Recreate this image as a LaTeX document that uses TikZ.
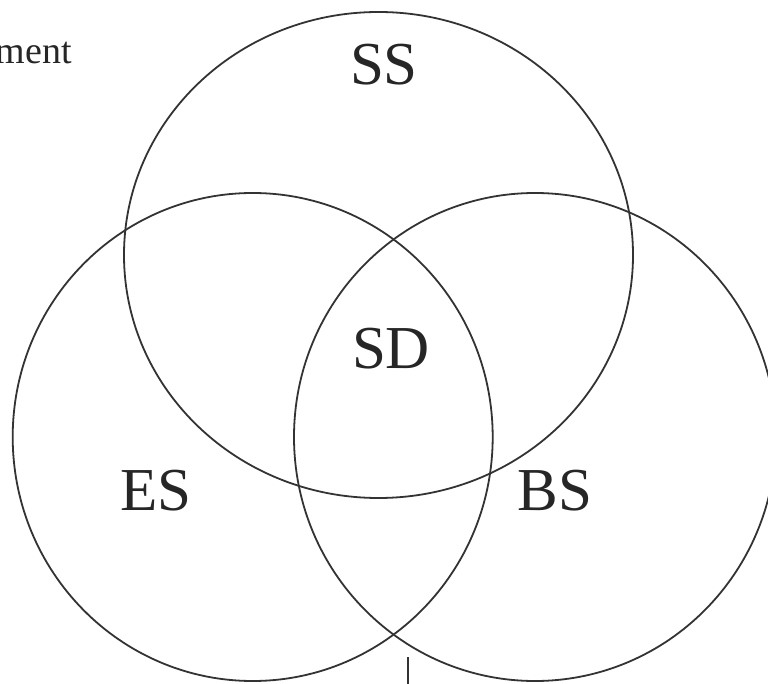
\documentclass[tikz,border=0pt]{standalone}
\usepackage{fontspec}
\setmainfont{Liberation Serif}
\begin{document}
\begin{tikzpicture}[x=1pt,y=-1pt,
  setring/.style={draw=black!80,line width=1.8pt},
  setlabel/.style={font=\fontsize{61}{61}\selectfont,text=black!85,inner sep=0pt},
  sidetext/.style={font=\fontsize{38}{38}\selectfont,text=black!85,inner sep=0pt}]
  \useasboundingbox (0,0) rectangle (768,684);
  % the three overlapping sets
  \draw[setring] (378.5,255) ellipse [x radius=254.5, y radius=243];
  \draw[setring] (252.7,437) ellipse [x radius=240, y radius=244];
  \draw[setring] (535,437) ellipse [x radius=241, y radius=244];
  % set labels
  \node[setlabel] (ss) at (384,65) {SS};
  \node[setlabel] (sd) at (391,349) {SD};
  \node[setlabel] (es) at (156,491) {ES};
  \node[setlabel] (bs) at (555,491) {BS};
  % fragment of a caption at the top left
  \node[sidetext,anchor=base east] (cap) at (72,64) {ment};
  % short tick below the lower crossing
  \draw[black!80,line width=1.5pt] (408,657) -- (408,684);
\end{tikzpicture}
\end{document}
